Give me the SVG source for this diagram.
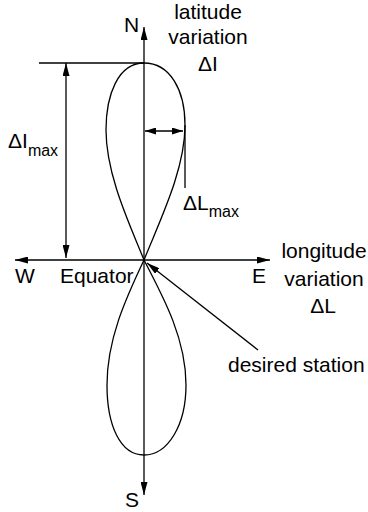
<svg xmlns="http://www.w3.org/2000/svg" width="368" height="512" viewBox="0 0 368 512">
<style>
.ln{fill:none;stroke:#000;stroke-width:1.3}
.t{font-family:"Liberation Sans",Arial,sans-serif;font-size:21px;fill:#000}
.s{font-size:16px}
</style>
<defs>
<marker id="ah" markerWidth="13" markerHeight="7" refX="13" refY="3.5" orient="auto-start-reverse" markerUnits="userSpaceOnUse"><path d="M0,0 L13,3.5 L0,7 z" fill="#000"/></marker>
<marker id="sh" markerWidth="11" markerHeight="7" refX="11" refY="3.5" orient="auto-start-reverse" markerUnits="userSpaceOnUse"><path d="M0,0 L11,3.5 L0,7 z" fill="#000"/></marker>
</defs>
<rect width="368" height="512" fill="#fff"/>
<g id="upper-loop"><path class="ln" d="M144,260 C160,220 185,170 185,125 C185,90 170,63 144,63 C118,63 106,95 106,130 C106,175 130,225 144,260 Z"/></g>
<g id="lower-loop"><path class="ln" d="M144,260 C165,300 186,340 186,385 C186,425 168,455 144,455 C120,455 107,425 107,385 C107,340 125,300 144,260 Z"/></g>
<g id="connectors">
<line class="ln" x1="144" y1="260" x2="144" y2="27" marker-end="url(#ah)"/>
<line class="ln" x1="144" y1="260" x2="144" y2="495" marker-end="url(#ah)"/>
<line class="ln" x1="144" y1="260" x2="15" y2="260" marker-end="url(#ah)"/>
<line class="ln" x1="144" y1="260" x2="270" y2="260" marker-end="url(#ah)"/>
<line class="ln" x1="39" y1="63" x2="144" y2="63"/>
<line class="ln" x1="66" y1="63" x2="66" y2="258" marker-start="url(#ah)" marker-end="url(#ah)"/>
<line class="ln" x1="145" y1="131" x2="183" y2="131" marker-start="url(#sh)" marker-end="url(#sh)"/>
<line class="ln" x1="185" y1="125" x2="185" y2="188"/>
<line class="ln" x1="258" y1="350" x2="147" y2="263" marker-end="url(#ah)"/>
</g>
<g id="labels">
<text class="t" x="124" y="32">N</text>
<text class="t" x="125" y="507">S</text>
<text class="t" x="15" y="283">W</text>
<text class="t" x="60" y="283">Equator</text>
<text class="t" x="252" y="283">E</text>
<text class="t" x="208" y="19" text-anchor="middle">latitude</text>
<text class="t" x="208" y="44" text-anchor="middle">variation</text>
<text class="t" x="208" y="71" text-anchor="middle">ΔI</text>
<text class="t" x="324" y="258" text-anchor="middle">longitude</text>
<text class="t" x="324" y="286" text-anchor="middle">variation</text>
<text class="t" x="323" y="313" text-anchor="middle">ΔL</text>
<text class="t" x="228" y="372">desired station</text>
<text class="t" x="8" y="148">ΔI<tspan class="s" dy="8">max</tspan></text>
<text class="t" x="183" y="210">ΔL<tspan class="s" dy="7">max</tspan></text>
</g>
</svg>
